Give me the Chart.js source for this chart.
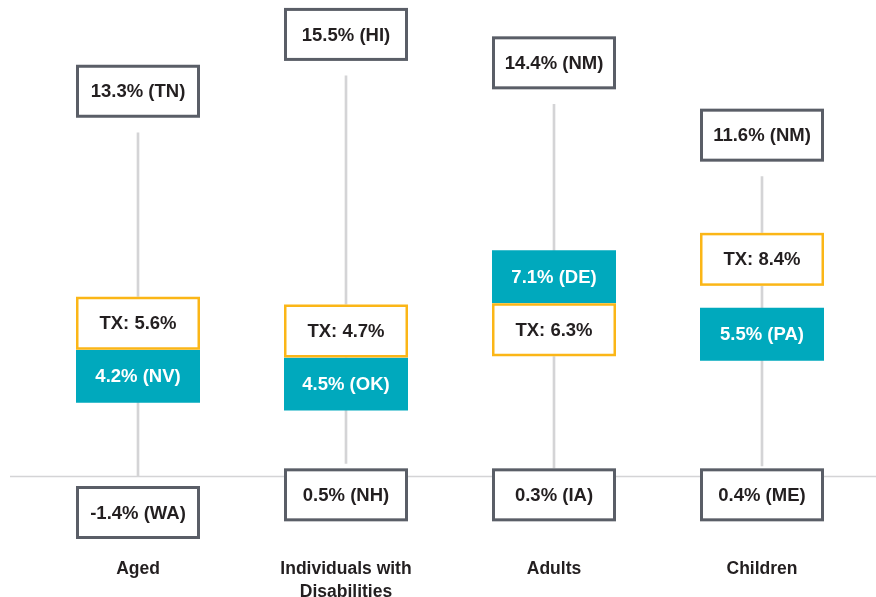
<!DOCTYPE html>
<html>
<head>
<meta charset="utf-8">
<script src="https://cdn.jsdelivr.net/npm/chart.js@4/dist/chart.umd.min.js"></script>
<style>
    html, body { margin: 0; padding: 0; background: #fff; }
    #wrap { width: 876px; height: 597px; }
</style>
</head>
<body>
<div id="wrap"><canvas id="chart" width="876" height="597"></canvas></div>
<script>
    'use strict';

    const categories = [['Aged'], ['Individuals with', 'Disabilities'], ['Adults'], ['Children']];
    const maxValues = [13.3, 15.5, 14.4, 11.6];
    const maxStates = ['TN', 'HI', 'NM', 'NM'];
    const txValues = [5.6, 4.7, 6.3, 8.4];
    const medianValues = [4.2, 4.5, 7.1, 5.5];
    const medianStates = ['NV', 'OK', 'DE', 'PA'];
    const minValues = [-1.4, 0.5, 0.3, 0.4];
    const minStates = ['WA', 'NH', 'IA', 'ME'];

    const TEAL = '#00a9bd';
    const ORANGE = '#fbb617';
    const DARK = '#5a5e67';
    const TEXT = '#231f20';
    const LINE = '#d4d4d6';
    const FONT = '"Liberation Sans", Arial, sans-serif';

    const BOX_W = 124;
    const BOX_H = 53;

    function pct(v) {
        return v.toFixed(1) + '%';
    }

    function drawBox(ctx, cx, top, text, style) {
        const left = cx - BOX_W / 2;
        ctx.save();
        if (style === 'teal') {
            ctx.fillStyle = TEAL;
            ctx.fillRect(left, top, BOX_W, BOX_H);
        } else {
            const bw = style === 'tx' ? 2.5 : 3;
            ctx.fillStyle = '#fff';
            ctx.fillRect(left, top, BOX_W, BOX_H);
            ctx.lineWidth = bw;
            ctx.strokeStyle = style === 'tx' ? ORANGE : DARK;
            ctx.strokeRect(left + bw / 2, top + bw / 2, BOX_W - bw, BOX_H - bw);
        }
        ctx.font = 'bold 18.5px ' + FONT;
        ctx.fillStyle = style === 'teal' ? '#fff' : TEXT;
        ctx.textAlign = 'center';
        ctx.textBaseline = 'middle';
        ctx.fillText(text, cx, top + BOX_H / 2 + 1);
        ctx.restore();
    }

    const zeroLine = {
        id: 'zeroLine',
        beforeDatasetsDraw: function (chart) {
            const y = Math.round(chart.scales.y.getPixelForValue(0)) + 0.5;
            const ctx = chart.ctx;
            ctx.save();
            ctx.strokeStyle = LINE;
            ctx.lineWidth = 1.5;
            ctx.beginPath();
            ctx.moveTo(10, y);
            ctx.lineTo(chart.width, y);
            ctx.stroke();
            ctx.restore();
        },
    };

    const rangeBoxes = {
        id: 'rangeBoxes',
        afterDatasetsDraw: function (chart) {
            const ctx = chart.ctx;
            const xs = chart.scales.x;
            const ys = chart.scales.y;
            const zero = ys.getPixelForValue(0);

            categories.forEach(function (c, i) {
                const cx = xs.getPixelForValue(i);

                // max label sits above the top of the range line
                const maxTop = ys.getPixelForValue(maxValues[i]) - 15 - BOX_H;
                drawBox(ctx, cx, maxTop, pct(maxValues[i]) + ' (' + maxStates[i] + ')', 'plain');

                // TX and median, pushed apart if they collide
                let txC = ys.getPixelForValue(txValues[i]);
                let medC = ys.getPixelForValue(medianValues[i]);
                if (Math.abs(txC - medC) < BOX_H) {
                    const mid = (txC + medC) / 2;
                    if (txC <= medC) {
                        txC = mid - BOX_H / 2;
                        medC = mid + BOX_H / 2;
                    } else {
                        medC = mid - BOX_H / 2;
                        txC = mid + BOX_H / 2;
                    }
                }
                drawBox(ctx, cx, medC - BOX_H / 2, pct(medianValues[i]) + ' (' + medianStates[i] + ')', 'teal');
                drawBox(ctx, cx, txC - BOX_H / 2, 'TX: ' + pct(txValues[i]), 'tx');

                // min label hangs around the zero line
                const minTop = Math.max(ys.getPixelForValue(minValues[i]) - BOX_H / 2, zero - 8);
                drawBox(ctx, cx, minTop, pct(minValues[i]) + ' (' + minStates[i] + ')', 'plain');
            });
        },
    };

    new Chart(document.getElementById('chart'), {
        type: 'bar',
        data: {
            labels: categories,
            datasets: [{
                data: minValues.map(function (v, i) { return [Math.max(v, 0), maxValues[i]]; }),
                backgroundColor: LINE,
                borderWidth: 0,
                barThickness: 2,
                borderSkipped: false,
            }],
        },
        options: {
            responsive: false,
            animation: false,
            devicePixelRatio: 1,
            layout: { padding: { left: 34, right: 10, top: 63, bottom: 0 } },
            plugins: {
                legend: { display: false },
                tooltip: { enabled: false },
            },
            scales: {
                x: {
                    grid: { display: false, drawTicks: false },
                    border: { display: false },
                    afterFit: function (scale) { scale.height = 69; },
                    ticks: {
                        color: TEXT,
                        padding: 29,
                        font: { family: FONT, size: 17.5, weight: 'bold', lineHeight: 1.35 },
                    },
                },
                y: {
                    display: false,
                    min: -2,
                    max: 16,
                },
            },
        },
        plugins: [zeroLine, rangeBoxes],
    });
</script>
</body>
</html>
